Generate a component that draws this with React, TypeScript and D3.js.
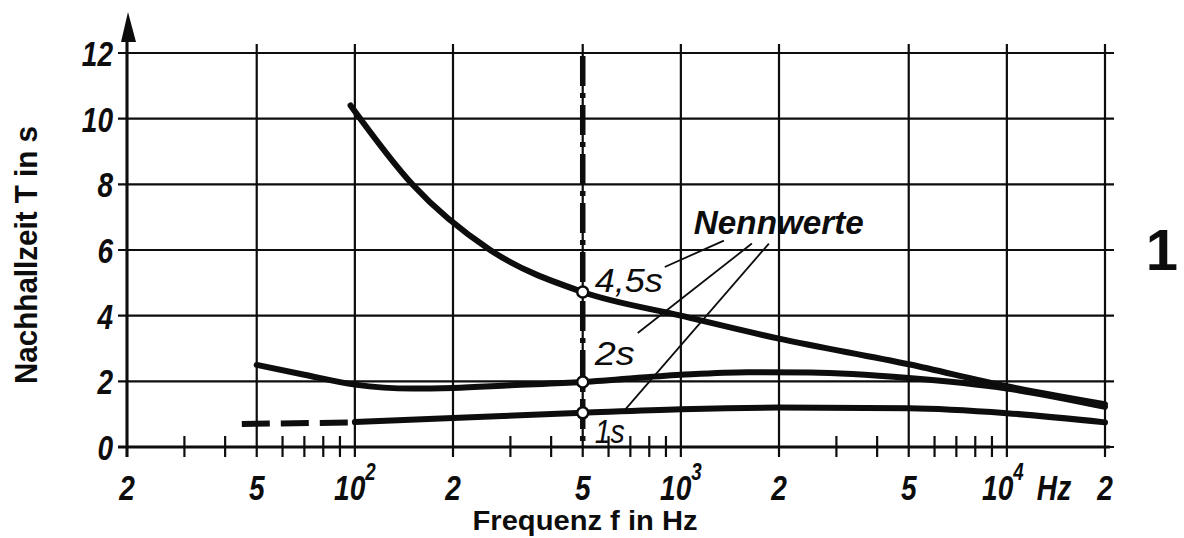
import React from 'react'
import * as d3 from 'd3'

// Nachhallzeit über Frequenz, drei Nennwerte
const xTicks = [20, 50, 100, 200, 500, 1000, 2000, 5000, 10000, 20000]
const xTickBase = ['2', '5', '10', '2', '5', '10', '2', '5', '10', '2']
const xTickExp = ['', '', '2', '', '', '3', '', '', '4', '']
const minorTicks = [30, 40, 60, 70, 80, 90, 300, 400, 600, 700, 800, 900, 3000, 4000, 6000, 7000, 8000, 9000]
const yTicks = [0, 2, 4, 6, 8, 10, 12]

const curve45: [number, number][] = [
  [97, 10.4], [150, 8.0], [260, 6.0], [500, 4.72],
  [1000, 4.0], [2000, 3.3], [5000, 2.52], [10000, 1.85], [20000, 1.3],
]
const curve2: [number, number][] = [
  [50, 2.5], [70, 2.2], [100, 1.9], [150, 1.78], [200, 1.8], [300, 1.88],
  [500, 1.98], [1000, 2.2], [1600, 2.28], [2500, 2.27], [5000, 2.1], [10000, 1.78], [20000, 1.22],
]
const curve1Dashed: [number, number][] = [[45, 0.7], [100, 0.75]]
const curve1: [number, number][] = [
  [100, 0.76], [200, 0.88], [500, 1.04], [1000, 1.15], [2000, 1.2],
  [5000, 1.18], [10000, 1.03], [20000, 0.75],
]
const nominalFreq = 500
const nominalValues = [4.72, 1.98, 1.04]
const nominalLabels = ['4,5s', '2s', '1s']
const labelLevels = [4.72, 2.5, 0.12]

const W = 1184
const H = 538

export default function App() {
  const x = d3.scaleLog().domain([20, 20000]).range([127, 1105])
  const y = d3.scaleLinear().domain([0, 12]).range([447, 53])
  const line = d3
    .line<[number, number]>()
    .x(d => x(d[0]))
    .y(d => y(d[1]))
    .curve(d3.curveMonotoneX)

  const ink = '#0d0d0d'
  const numFont = {
    fontFamily: 'Liberation Sans, Arial, sans-serif',
    fontStyle: 'italic' as const,
    fontWeight: 'bold' as const,
    fontSize: 36,
    fill: ink,
  }
  const x0 = x(20)
  const xEnd = x(20000)
  const yTop = y(12)
  const yBase = y(0)
  const px500 = x(nominalFreq)

  // label anchors (Nennwerte and the 3 value labels)
  const nx = x(1000) + 13
  const ny = y(6.5)
  const labelPos = labelLevels.map(v => [px500 + 12, y(v)])
  const leaderStart = [[30, 7], [58, 10], [75, 10]]
  const leaderEnd = [[70, -25], [43, -32], [30, -33]]

  return (
    <svg
      width={W}
      height={H}
      style={{ position: 'absolute', left: 0, top: 0, background: '#fff' }}
    >
      <rect width={W} height={H} fill="#fff" />

      {/* horizontal grid */}
      {yTicks.map(t => (
        <line key={'h' + t} x1={x0 - 9} x2={xEnd + 9} y1={y(t)} y2={y(t)} stroke={ink} strokeWidth={2.2} />
      ))}
      {/* vertical grid */}
      {xTicks.map((t, i) => (
        <line
          key={'v' + t}
          x1={x(t)}
          x2={x(t)}
          y1={i === 0 ? 40 : yTop - 9}
          y2={yBase + 10}
          stroke={ink}
          strokeWidth={2.2}
        />
      ))}
      {/* minor ticks */}
      {minorTicks.map(t => (
        <line key={'m' + t} x1={x(t)} x2={x(t)} y1={yBase - 11} y2={yBase + 10} stroke={ink} strokeWidth={2.2} />
      ))}
      {/* y-axis arrow */}
      <path d={`M${x0 + 1},12 L${x0 - 6},42 L${x0 + 9},42 Z`} fill={ink} />
      <line x1={x0} x2={x0} y1={yBase + 10} y2={30} stroke={ink} strokeWidth={3} />
      <line x1={x0 - 9} x2={xEnd + 5} y1={yBase} y2={yBase} stroke={ink} strokeWidth={3} />

      {/* dash-dot reference at 500 Hz */}
      <line
        x1={px500}
        x2={px500}
        y1={yTop + 3}
        y2={yBase}
        stroke={ink}
        strokeWidth={5.5}
        strokeDasharray="30 7 5 7"
      />

      {/* curves */}
      <path d={line(curve45) ?? ''} fill="none" stroke={ink} strokeWidth={6} strokeLinecap="round" />
      <path d={line(curve2) ?? ''} fill="none" stroke={ink} strokeWidth={6} strokeLinecap="round" />
      <path d={line(curve1) ?? ''} fill="none" stroke={ink} strokeWidth={6} strokeLinecap="round" />
      <path d={line(curve1Dashed) ?? ''} fill="none" stroke={ink} strokeWidth={6} strokeDasharray="28 11" />

      {/* nominal value circles */}
      {nominalValues.map(v => (
        <circle key={'c' + v} cx={px500} cy={y(v)} r={5.5} fill="#fff" stroke={ink} strokeWidth={2.5} />
      ))}

      {/* leader lines */}
      {leaderStart.map((s, i) => (
        <line
          key={'l' + i}
          x1={nx + s[0]}
          y1={ny + s[1]}
          x2={labelPos[i][0] + leaderEnd[i][0]}
          y2={labelPos[i][1] + leaderEnd[i][1]}
          stroke={ink}
          strokeWidth={1.8}
        />
      ))}

      {/* labels */}
      <text
        x={nx}
        y={ny}
        textLength={170}
        lengthAdjust="spacingAndGlyphs"
        style={{ ...numFont, fontSize: 34 }}
      >
        Nennwerte
      </text>
      {nominalLabels.map((l, i) => (
        <text
          key={l}
          x={labelPos[i][0]}
          y={labelPos[i][1]}
          textLength={l.length > 2 ? 68 : l === '2s' ? 40 : 30}
          lengthAdjust="spacingAndGlyphs"
          style={{ ...numFont, fontWeight: 'normal', fontSize: 34 }}
        >
          {l}
        </text>
      ))}

      {/* y tick labels */}
      {yTicks.map(t => (
        <text
          key={'yl' + t}
          transform={`translate(${x0 - 14},${y(t) + 13}) scale(0.78,1)`}
          textAnchor="end"
          style={numFont}
        >
          {t}
        </text>
      ))}

      {/* x tick labels */}
      {xTicks.map((t, i) => (
        <text
          key={'xl' + t}
          transform={`translate(${x(t) - (i === 8 ? 4 : 0)},${yBase + 53}) scale(0.78,1)`}
          textAnchor="middle"
          style={numFont}
        >
          {xTickBase[i]}
          {xTickExp[i] && (
            <tspan dy={-20} fontSize={24}>
              {xTickExp[i]}
            </tspan>
          )}
        </text>
      ))}
      <text
        transform={`translate(${x(10000) + 30},${yBase + 53}) scale(0.78,1)`}
        style={numFont}
      >
        Hz
      </text>

      {/* axis titles */}
      <text
        transform="translate(37,255) rotate(-90)"
        textAnchor="middle"
        textLength={258}
        lengthAdjust="spacingAndGlyphs"
        style={{ fontFamily: 'Liberation Sans, Arial, sans-serif', fontWeight: 'bold', fontSize: 31, fill: ink }}
      >
        Nachhallzeit T in s
      </text>
      <text
        x={585}
        y={530}
        textAnchor="middle"
        textLength={225}
        lengthAdjust="spacingAndGlyphs"
        style={{ fontFamily: 'Liberation Sans, Arial, sans-serif', fontWeight: 'bold', fontSize: 27, fill: ink }}
      >
        Frequenz f in Hz
      </text>
      <text
        x={1162}
        y={270}
        textAnchor="middle"
        style={{ fontFamily: 'Liberation Sans, Arial, sans-serif', fontWeight: 'bold', fontSize: 58, fill: ink }}
      >
        1
      </text>
    </svg>
  )
}
